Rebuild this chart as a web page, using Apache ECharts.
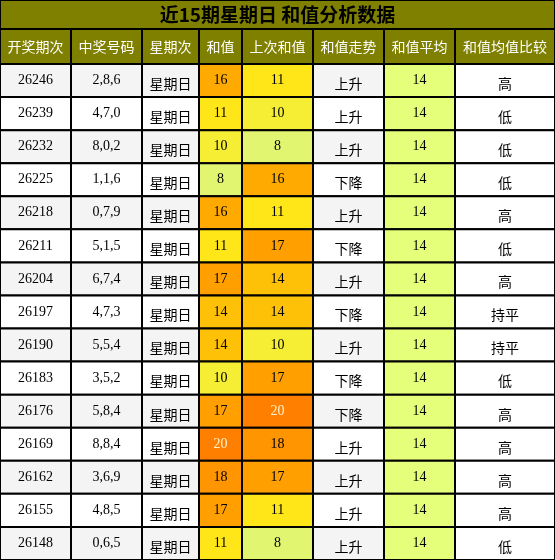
<!DOCTYPE html>
<html><head><meta charset="utf-8">
<script src="https://cdn.jsdelivr.net/npm/echarts@6/dist/echarts.min.js"></script>
<style>html,body{margin:0;padding:0;background:#fff}#c{width:555px;height:560px}</style>
</head><body><div id="c"></div>
<script>
const title = "近15期星期日 和值分析数据";
const headers = ["开奖期次","中奖号码","星期次","和值","上次和值","和值走势","和值平均","和值均值比较"];
const periods = ["26246","26239","26232","26225","26218","26211","26204","26197","26190","26183","26176","26169","26162","26155","26148"];
const numbers = ["2,8,6","4,7,0","8,0,2","1,1,6","0,7,9","5,1,5","6,7,4","4,7,3","5,5,4","3,5,2","5,8,4","8,8,4","3,6,9","4,8,5","0,6,5"];
const weekday = "星期日";
const sums = [16,11,10,8,16,11,17,14,14,10,17,20,18,17,11];
const prevSums = [11,10,8,16,11,17,14,14,10,17,20,18,17,11,8];
const trends = ["上升","上升","上升","下降","上升","下降","上升","下降","上升","下降","下降","上升","上升","上升","上升"];
const avg = 14;
const compare = ["高","低","低","低","高","低","高","持平","持平","低","高","高","高","高","低"];

const COL = [0,71,142,199,242,313,384,455,555];
const TITLE_H = 29, HEAD_H = 35, ROW_H = (560-64)/15;
const heat = {8:"#E2F570",10:"#F5EE35",11:"#FFE619",14:"#FFC107",16:"#FFAA00",17:"#FF9F00",18:"#FF9500",20:"#FF8000"};
const SERIF = "Liberation Serif", SANS = "Noto Sans CJK SC";

const cells = [];
cells.push({x0:0,x1:555,y0:0,y1:TITLE_H,text:title,fill:"#808000",color:"#000",font:SANS,size:19,bold:true});
headers.forEach((h,i)=>cells.push({x0:COL[i],x1:COL[i+1],y0:TITLE_H,y1:64,text:h,fill:"#808000",color:"#fff",font:SANS,size:14}));
periods.forEach((p,r)=>{
  const y0 = 64+r*ROW_H, y1 = y0+ROW_H;
  const bg = r%2===0 ? "#F4F4F4" : "#FFFFFF";
  const vals = [
    [p,bg,"#000",SERIF,0],[numbers[r],bg,"#000",SERIF,0],[weekday,bg,"#000",SANS,3],
    [String(sums[r]),heat[sums[r]],sums[r]>=20?"#FFF2CC":"#000",SERIF,0],
    [String(prevSums[r]),heat[prevSums[r]],prevSums[r]>=20?"#FFF2CC":"#000",SERIF,0],
    [trends[r],bg,"#000",SANS,3],[String(avg),"#E5FF7A","#000",SERIF,0],[compare[r],"#FFFFFF","#000",SANS,3]
  ];
  vals.forEach((v,c)=>cells.push({x0:COL[c],x1:COL[c+1],y0:y0,y1:y1,text:v[0],fill:v[1],color:v[2],font:v[3],size:v[3]===SERIF?14:14,dy:v[4]}));
});

const chart = echarts.init(document.getElementById('c'));
chart.setOption({
  animation:false,
  grid:{left:0,right:0,top:0,bottom:0},
  xAxis:{type:'value',min:0,max:555,show:false},
  yAxis:{type:'value',min:0,max:560,inverse:true,show:false},
  series:[{
    type:'custom',
    data:cells.map((c,i)=>[c.x0,c.y0,c.x1,c.y1,i]),
    renderItem:(params,api)=>{
      const c = cells[api.value(4)];
      const p0 = api.coord([api.value(0),api.value(1)]);
      const p1 = api.coord([api.value(2),api.value(3)]);
      return {type:'group',children:[
        {type:'rect',shape:{x:p0[0],y:p0[1],width:p1[0]-p0[0],height:p1[1]-p0[1]},
          style:{fill:c.fill,stroke:'#000',lineWidth:2}},
        {type:'text',x:(p0[0]+p1[0])/2,y:(p0[1]+p1[1])/2+(c.dy||0),
          style:{text:c.text,fill:c.color,fontFamily:c.font,fontSize:c.size,fontWeight:c.bold?'bold':'normal',align:'center',verticalAlign:'middle'}}
      ]};
    }
  }]
});
</script></body></html>
